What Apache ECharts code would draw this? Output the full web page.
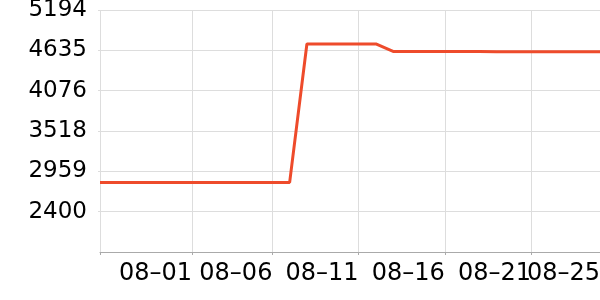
<!DOCTYPE html>
<html><head><meta charset="utf-8">
<script src="https://cdn.jsdelivr.net/npm/echarts@6/dist/echarts.min.js"></script>
<style>html,body{margin:0;padding:0;background:#fff}#c{width:600px;height:300px}</style>
</head><body><div id="c"></div>
<script>
const dates = ['2024-07-27','2024-07-28','2024-07-29','2024-07-30','2024-07-31','2024-08-01','2024-08-02','2024-08-03','2024-08-04','2024-08-05','2024-08-06','2024-08-07','2024-08-08','2024-08-09','2024-08-10','2024-08-11','2024-08-12','2024-08-13','2024-08-14','2024-08-15','2024-08-16','2024-08-17','2024-08-18','2024-08-19','2024-08-20','2024-08-21','2024-08-22','2024-08-23','2024-08-24','2024-08-25'];
const values = [2805,2805,2805,2805,2805,2805,2805,2805,2805,2805,2805,2805,4723,4723,4723,4723,4723,4620,4620,4620,4620,4620,4620,4614,4614,4614,4614,4614,4614,4614];
const xTickDates = ['2024-07-27','2024-08-01 08:00','2024-08-06','2024-08-11','2024-08-16','2024-08-21'];
const xLabelDates = ['2024-08-01 08:00','2024-08-06','2024-08-11','2024-08-16','2024-08-21'];
const xEndLabelDates = ['2024-08-25'];
const yTicks = [2400, 2959, 3518, 4076, 4635, 5194];
const yMin = 1841, yMax = 5194;

const P = s => +echarts.number.parseDate(s);
const chart = echarts.init(document.getElementById('c'), null, {renderer: 'canvas'});
const xLabel = {
  align: 'right', margin: 10, hideOverlap: false,
  fontFamily: 'DejaVu Sans', fontSize: 24, color: '#000',
  formatter: v => echarts.time.format(v, '{MM}–{dd}', false)
};
chart.setOption({
  animation: false,
  grid: {left: 100, right: 0, top: 10, bottom: 48, outerBoundsMode: 'none'},
  xAxis: [{
    type: 'value',
    min: P(dates[0]), max: P(dates[dates.length - 1]),
    axisLine: {lineStyle: {color: '#aaa', width: 1}},
    axisTick: {show: true, length: 3, customValues: xTickDates.map(P), lineStyle: {color: '#aaa'}},
    splitLine: {show: true, lineStyle: {color: '#ddd', width: 1}},
    axisLabel: Object.assign({customValues: xLabelDates.map(P)}, xLabel)
  }, {
    type: 'value', position: 'bottom',
    min: P(dates[0]), max: P(dates[dates.length - 1]),
    axisLine: {show: false}, axisTick: {show: false}, splitLine: {show: false},
    axisLabel: Object.assign({customValues: xEndLabelDates.map(P), showMaxLabel: true}, xLabel)
  }],
  yAxis: {
    type: 'value', min: yMin, max: yMax,
    axisLine: {show: false},
    axisTick: {show: true, length: 2, customValues: yTicks, lineStyle: {color: '#ddd'}},
    splitLine: {show: true, lineStyle: {color: '#ddd', width: 1}},
    axisLabel: {customValues: yTicks, margin: 13, fontFamily: 'DejaVu Sans', fontSize: 23, color: '#000',
      formatter: v => String(v)}
  },
  series: [{
    type: 'line', showSymbol: false, xAxisIndex: 0,
    data: dates.map((d, i) => [P(d), values[i]]),
    lineStyle: {color: '#ee4b2b', width: 3},
    itemStyle: {color: '#ee4b2b'}
  }]
});
</script></body></html>
